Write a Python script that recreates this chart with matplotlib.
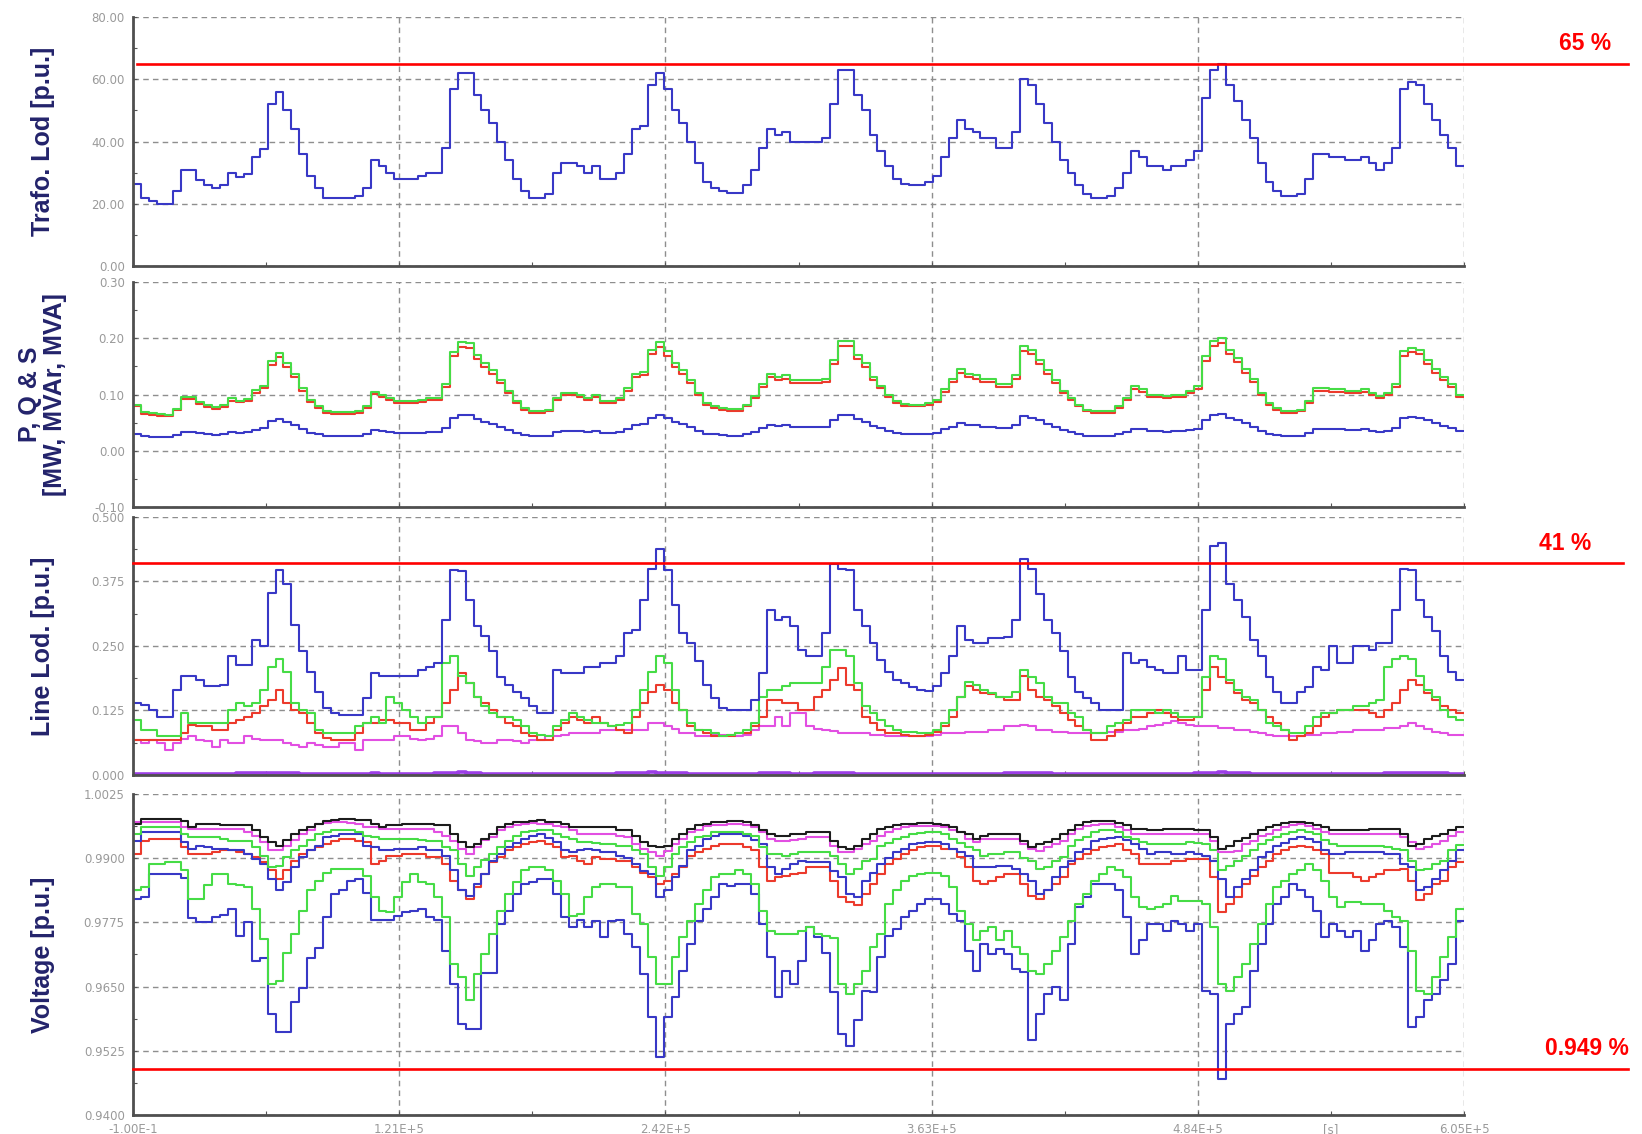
import numpy as np
import matplotlib.pyplot as plt
from matplotlib.ticker import FixedLocator, FixedFormatter

plt.rcParams['font.family'] = ['Liberation Sans', 'DejaVu Sans']

# one week of hourly simulation results
HOUR = 3600.0
T_END = 6.05e5

x_major = [0, 1.21e5, 2.42e5, 3.63e5, 4.84e5, 6.05e5]
x_major_labels = ['-1.00E-1', '1.21E+5', '2.42E+5', '3.63E+5', '4.84E+5', '6.05E+5']
x_minor = [0.605e5, 1.815e5, 3.025e5, 4.235e5, 5.445e5]
x_minor_labels = ['', '', '', '', '[s]']

# --- transformer loading [%] ---
trafo_start = 0.0
trafo_load = [
    26.5, 22, 21, 20, 20, 24, 31, 31, 27.5, 26, 25, 26, 30, 28.5, 29.5, 35, 37.5, 52, 56, 50, 44, 36, 29, 25,
    22, 22, 22, 22, 22.5, 25, 34, 32, 30, 28, 28, 28, 29, 30, 30, 38, 57, 62, 62, 55, 50, 46, 40, 34,
    28, 24, 22, 22, 23, 30, 33, 33, 32, 30, 32, 28, 28, 30, 36, 44, 45, 58, 62, 57, 50, 46, 40, 33,
    27, 25, 24, 23.5, 23.5, 26, 31, 38, 44, 42, 43, 40, 40, 40, 40, 41, 52, 63, 63, 55, 50, 42, 37, 32,
    28, 26.5, 26, 26, 27, 29, 35, 41, 47, 44, 43, 41, 41, 38, 38, 43, 60, 58, 52, 46, 40, 34, 30, 26,
    23, 22, 22, 22.5, 25, 30, 37, 35, 32, 32, 31, 32, 32, 34, 37, 54, 63, 65, 58, 53, 47, 41, 33, 27,
    24, 22.5, 22.5, 23, 28, 36, 36, 35, 35, 34, 34, 35, 33, 31, 33, 38, 57, 59, 58, 52, 47, 42, 38, 32,
]

# --- P, Q and S at the transformer ---
s_mva = [
    .082, .069, .067, .065, .064, .075, .096, .096, .086, .081, .078, .081, .093, .089, .092, .108, .116, .160, .174, .156, .137, .112, .091, .079,
    .070, .069, .069, .069, .071, .079, .105, .099, .094, .088, .088, .088, .091, .094, .094, .118, .176, .193, .192, .171, .156, .143, .125, .106,
    .088, .076, .070, .070, .073, .094, .103, .103, .100, .094, .100, .088, .088, .094, .112, .137, .140, .180, .193, .177, .156, .143, .125, .103,
    .085, .079, .076, .074, .074, .082, .097, .118, .137, .131, .134, .125, .125, .125, .125, .128, .162, .195, .195, .171, .156, .131, .116, .100,
    .088, .083, .082, .082, .085, .091, .109, .128, .146, .137, .134, .128, .128, .119, .119, .134, .186, .180, .162, .143, .125, .106, .094, .082,
    .073, .070, .070, .071, .079, .094, .115, .109, .100, .100, .097, .100, .100, .106, .115, .168, .195, .201, .180, .165, .146, .128, .103, .085,
    .076, .071, .071, .073, .088, .112, .112, .109, .109, .106, .106, .109, .103, .097, .103, .118, .177, .183, .180, .162, .146, .131, .118, .100,
]
p_mw = [
    .079, .066, .064, .062, .061, .072, .092, .092, .083, .078, .075, .078, .089, .086, .088, .103, .111, .153, .166, .149, .131, .107, .087, .076,
    .067, .066, .066, .066, .068, .076, .101, .095, .090, .085, .085, .085, .087, .090, .090, .113, .168, .184, .183, .163, .149, .137, .120, .102,
    .085, .073, .067, .067, .070, .090, .099, .099, .096, .090, .096, .085, .085, .090, .107, .131, .134, .172, .184, .169, .149, .137, .120, .099,
    .082, .076, .073, .071, .071, .079, .093, .113, .131, .125, .128, .120, .120, .120, .120, .123, .155, .186, .186, .163, .149, .125, .111, .096,
    .085, .080, .079, .079, .082, .087, .104, .122, .139, .131, .128, .122, .122, .114, .114, .128, .177, .172, .155, .137, .120, .102, .090, .079,
    .070, .067, .067, .068, .076, .090, .110, .104, .096, .096, .093, .096, .096, .102, .110, .160, .186, .192, .172, .158, .139, .122, .099, .082,
    .073, .068, .068, .070, .085, .107, .107, .104, .104, .102, .102, .104, .099, .093, .099, .113, .169, .175, .172, .155, .139, .125, .113, .096,
]
q_mvar = [
    .030, .026, .025, .025, .024, .028, .034, .034, .031, .029, .028, .029, .033, .032, .033, .037, .040, .053, .057, .052, .046, .039, .032, .029,
    .026, .026, .026, .026, .026, .029, .037, .035, .033, .031, .031, .031, .032, .033, .033, .040, .058, .063, .063, .056, .052, .048, .042, .037,
    .031, .028, .026, .026, .027, .033, .036, .036, .035, .033, .035, .031, .031, .033, .039, .046, .047, .059, .063, .058, .052, .048, .042, .036,
    .030, .029, .028, .027, .027, .030, .034, .040, .046, .044, .045, .042, .042, .042, .042, .043, .054, .064, .064, .056, .052, .044, .040, .035,
    .031, .030, .030, .030, .030, .032, .038, .043, .049, .046, .045, .043, .043, .041, .041, .045, .061, .059, .054, .048, .042, .037, .033, .030,
    .027, .026, .026, .026, .029, .033, .039, .038, .035, .035, .034, .035, .035, .037, .039, .055, .064, .066, .059, .054, .049, .043, .036, .030,
    .028, .026, .026, .027, .031, .039, .039, .038, .038, .037, .037, .038, .036, .034, .036, .040, .058, .060, .059, .054, .049, .044, .040, .035,
]

# --- line loadings ---
line_blue = [
    .139, .135, .126, .112, .112, .165, .191, .191, .185, .172, .172, .175, .230, .214, .214, .262, .250, .353, .398, .370, .290, .240, .200, .160,
    .130, .120, .117, .117, .117, .150, .198, .191, .191, .191, .191, .191, .204, .210, .217, .300, .398, .395, .340, .288, .270, .240, .190, .175,
    .160, .150, .133, .120, .120, .204, .198, .198, .198, .210, .210, .217, .217, .230, .275, .281, .340, .400, .437, .398, .330, .275, .255, .220,
    .175, .150, .130, .126, .126, .126, .145, .198, .320, .300, .306, .288, .243, .230, .230, .275, .408, .400, .398, .320, .288, .255, .223, .200,
    .185, .178, .170, .165, .162, .172, .198, .230, .288, .262, .255, .255, .265, .265, .268, .300, .418, .400, .350, .300, .275, .240, .190, .160,
    .150, .140, .126, .126, .126, .236, .217, .223, .210, .204, .198, .198, .230, .204, .204, .320, .444, .450, .370, .340, .306, .262, .230, .190,
    .160, .139, .139, .160, .170, .210, .204, .249, .217, .217, .249, .249, .243, .255, .255, .320, .400, .398, .340, .306, .280, .230, .200, .185,
]
line_green = [
    .107, .088, .088, .075, .075, .075, .120, .100, .100, .100, .100, .100, .126, .139, .133, .139, .165, .210, .224, .200, .139, .126, .120, .088,
    .081, .081, .081, .081, .094, .100, .113, .100, .152, .139, .126, .113, .100, .113, .113, .217, .230, .191, .178, .152, .133, .120, .113, .113,
    .107, .094, .081, .078, .075, .094, .107, .120, .113, .107, .100, .100, .094, .097, .100, .126, .165, .200, .230, .217, .165, .126, .100, .088,
    .088, .081, .075, .078, .081, .088, .100, .152, .165, .165, .172, .178, .178, .178, .178, .210, .243, .243, .230, .178, .133, .120, .107, .094,
    .088, .084, .084, .081, .081, .088, .100, .126, .152, .180, .175, .165, .159, .152, .152, .160, .204, .190, .178, .152, .139, .139, .120, .113,
    .088, .081, .081, .094, .100, .107, .126, .126, .126, .120, .126, .120, .113, .113, .113, .190, .230, .224, .185, .165, .152, .146, .126, .100,
    .094, .088, .081, .081, .094, .113, .120, .120, .126, .126, .133, .133, .139, .146, .210, .224, .230, .224, .191, .165, .152, .126, .113, .107,
]
line_red = [
    .068, .068, .068, .068, .068, .068, .081, .097, .094, .094, .088, .088, .100, .107, .113, .120, .133, .146, .165, .139, .126, .120, .100, .081,
    .071, .068, .068, .068, .081, .100, .100, .107, .107, .100, .100, .088, .088, .100, .113, .140, .165, .198, .178, .152, .139, .126, .113, .100,
    .094, .081, .075, .068, .068, .088, .100, .113, .107, .100, .113, .100, .094, .088, .081, .113, .139, .160, .175, .165, .139, .126, .094, .088,
    .081, .075, .075, .075, .081, .081, .094, .113, .146, .146, .139, .139, .126, .126, .152, .165, .185, .207, .175, .165, .113, .100, .088, .081,
    .081, .078, .075, .075, .078, .084, .094, .113, .152, .172, .165, .159, .156, .152, .146, .146, .191, .165, .152, .146, .133, .120, .107, .094,
    .088, .068, .068, .075, .088, .100, .113, .113, .120, .126, .120, .113, .107, .107, .113, .165, .210, .190, .178, .159, .146, .139, .126, .113,
    .100, .088, .068, .075, .081, .094, .113, .120, .126, .126, .126, .126, .120, .113, .126, .139, .165, .184, .175, .159, .146, .133, .126, .120,
]
line_pink = [
    .068, .062, .068, .062, .049, .062, .070, .075, .068, .065, .055, .068, .062, .062, .075, .070, .068, .068, .068, .062, .058, .055, .062, .058,
    .055, .055, .062, .062, .049, .068, .068, .068, .068, .075, .075, .070, .068, .070, .075, .094, .094, .081, .068, .065, .062, .062, .068, .068,
    .065, .062, .068, .068, .075, .075, .078, .081, .081, .081, .081, .088, .088, .088, .088, .088, .088, .100, .100, .094, .090, .081, .081, .075,
    .075, .078, .078, .078, .075, .078, .088, .094, .094, .113, .094, .120, .120, .094, .090, .088, .085, .081, .081, .081, .081, .078, .078, .075,
    .075, .075, .075, .075, .075, .078, .081, .081, .081, .084, .084, .084, .088, .088, .094, .094, .097, .094, .088, .088, .084, .084, .081, .081,
    .081, .081, .081, .084, .084, .088, .088, .090, .094, .097, .100, .104, .100, .097, .094, .094, .094, .091, .091, .088, .088, .084, .081, .078,
    .075, .075, .075, .075, .078, .078, .081, .081, .084, .084, .088, .088, .088, .088, .091, .091, .094, .100, .094, .090, .084, .081, .078, .078,
]
line_violet = [
    .002, .002, .002, .002, .002, .002, .002, .002, .002, .002, .002, .002, .002, .003, .003, .003, .004, .004, .004, .003, .003, .002, .002, .002,
    .002, .002, .002, .002, .002, .002, .003, .002, .002, .002, .002, .002, .002, .002, .003, .003, .004, .005, .004, .003, .002, .002, .002, .002,
    .002, .002, .002, .002, .002, .002, .002, .002, .002, .002, .002, .002, .002, .003, .003, .004, .004, .005, .004, .004, .003, .003, .002, .002,
    .002, .002, .002, .002, .002, .002, .002, .003, .003, .003, .003, .002, .002, .002, .003, .004, .004, .004, .003, .002, .002, .002, .002, .002,
    .002, .002, .002, .002, .002, .002, .002, .002, .002, .002, .002, .002, .002, .002, .003, .003, .004, .004, .003, .003, .002, .002, .002, .002,
    .002, .002, .002, .002, .002, .002, .002, .002, .002, .002, .002, .002, .002, .002, .003, .004, .004, .005, .004, .003, .003, .002, .002, .002,
    .002, .002, .002, .002, .002, .002, .002, .002, .002, .002, .002, .002, .002, .002, .003, .003, .004, .004, .004, .004, .003, .003, .002, .002,
]

# --- bus voltages [p.u.] ---
volt_black = [
    .9967, .9976, .9976, .9976, .9976, .9976, .9973, .9960, .9967, .9967, .9967, .9964, .9964, .9964, .9964, .9954, .9941, .9931, .9924, .9935, .9947, .9954, .9960, .9967,
    .9973, .9975, .9976, .9976, .9974, .9974, .9967, .9960, .9964, .9964, .9967, .9967, .9967, .9967, .9964, .9964, .9947, .9931, .9921, .9928, .9938, .9947, .9960, .9967,
    .9970, .9970, .9973, .9974, .9970, .9970, .9967, .9960, .9960, .9960, .9960, .9960, .9960, .9954, .9954, .9944, .9931, .9924, .9921, .9924, .9938, .9947, .9957, .9964,
    .9967, .9970, .9970, .9972, .9972, .9970, .9964, .9954, .9947, .9944, .9944, .9946, .9947, .9950, .9950, .9950, .9934, .9921, .9918, .9924, .9938, .9947, .9957, .9960,
    .9964, .9966, .9967, .9968, .9968, .9967, .9964, .9960, .9950, .9947, .9938, .9944, .9947, .9947, .9947, .9947, .9934, .9921, .9928, .9931, .9938, .9947, .9954, .9964,
    .9970, .9973, .9973, .9972, .9968, .9964, .9957, .9957, .9955, .9955, .9957, .9957, .9957, .9957, .9954, .9954, .9941, .9918, .9924, .9934, .9940, .9947, .9954, .9960,
    .9964, .9968, .9970, .9970, .9968, .9964, .9960, .9954, .9954, .9954, .9955, .9955, .9957, .9957, .9957, .9957, .9947, .9924, .9928, .9938, .9944, .9947, .9954, .9960,
]
volt_pink = [
    .9970, .9970, .9970, .9970, .9970, .9970, .9960, .9957, .9957, .9957, .9957, .9957, .9957, .9957, .9950, .9944, .9931, .9915, .9915, .9924, .9935, .9947, .9955, .9967,
    .9968, .9970, .9970, .9968, .9966, .9960, .9960, .9957, .9957, .9957, .9957, .9957, .9957, .9957, .9950, .9944, .9934, .9918, .9908, .9921, .9935, .9941, .9954, .9960,
    .9964, .9966, .9968, .9967, .9967, .9962, .9960, .9954, .9947, .9947, .9947, .9947, .9947, .9944, .9941, .9928, .9918, .9911, .9905, .9914, .9928, .9938, .9950, .9955,
    .9962, .9964, .9965, .9967, .9967, .9964, .9960, .9950, .9937, .9934, .9934, .9936, .9937, .9941, .9941, .9941, .9924, .9911, .9911, .9918, .9928, .9934, .9944, .9950,
    .9957, .9960, .9962, .9963, .9963, .9962, .9960, .9954, .9950, .9937, .9931, .9937, .9937, .9937, .9937, .9937, .9928, .9918, .9914, .9921, .9928, .9934, .9947, .9957,
    .9962, .9965, .9966, .9966, .9960, .9954, .9947, .9947, .9947, .9947, .9947, .9947, .9947, .9947, .9947, .9947, .9934, .9911, .9911, .9914, .9928, .9934, .9944, .9947,
    .9955, .9960, .9964, .9966, .9962, .9957, .9950, .9947, .9947, .9947, .9947, .9947, .9947, .9947, .9947, .9947, .9941, .9931, .9918, .9921, .9928, .9934, .9944, .9950,
]
volt_green_hi = [
    .9947, .9960, .9960, .9960, .9960, .9960, .9947, .9941, .9941, .9941, .9941, .9938, .9934, .9934, .9934, .9921, .9905, .9882, .9885, .9902, .9915, .9924, .9935, .9947,
    .9950, .9954, .9954, .9954, .9950, .9944, .9941, .9938, .9937, .9937, .9937, .9937, .9935, .9934, .9934, .9921, .9915, .9889, .9866, .9882, .9896, .9908, .9921, .9934,
    .9944, .9950, .9952, .9954, .9954, .9947, .9941, .9938, .9931, .9931, .9930, .9928, .9928, .9924, .9924, .9915, .9908, .9882, .9866, .9882, .9908, .9921, .9931, .9941,
    .9944, .9950, .9950, .9950, .9950, .9947, .9944, .9921, .9908, .9908, .9905, .9908, .9911, .9911, .9911, .9911, .9905, .9889, .9869, .9879, .9895, .9898, .9924, .9930,
    .9937, .9942, .9947, .9949, .9950, .9950, .9947, .9937, .9930, .9921, .9915, .9905, .9908, .9908, .9911, .9911, .9900, .9895, .9879, .9882, .9895, .9902, .9924, .9935,
    .9941, .9950, .9954, .9955, .9950, .9941, .9937, .9931, .9928, .9928, .9928, .9928, .9928, .9931, .9930, .9928, .9915, .9876, .9885, .9895, .9905, .9915, .9928, .9935,
    .9941, .9946, .9950, .9954, .9950, .9947, .9935, .9928, .9924, .9924, .9924, .9924, .9924, .9924, .9921, .9918, .9915, .9895, .9876, .9879, .9889, .9895, .9915, .9925,
]
volt_blue_hi = [
    .9934, .9950, .9950, .9950, .9950, .9950, .9931, .9918, .9924, .9921, .9918, .9918, .9915, .9915, .9908, .9898, .9889, .9859, .9837, .9853, .9882, .9902, .9915, .9924,
    .9941, .9944, .9947, .9947, .9947, .9924, .9921, .9915, .9915, .9918, .9918, .9918, .9921, .9915, .9915, .9905, .9876, .9837, .9827, .9850, .9869, .9895, .9908, .9921,
    .9930, .9937, .9944, .9947, .9940, .9931, .9915, .9911, .9915, .9918, .9915, .9911, .9911, .9905, .9900, .9889, .9875, .9869, .9824, .9837, .9863, .9885, .9915, .9924,
    .9937, .9944, .9947, .9947, .9946, .9944, .9935, .9928, .9882, .9869, .9879, .9889, .9895, .9892, .9892, .9892, .9875, .9863, .9830, .9824, .9856, .9872, .9889, .9900,
    .9911, .9918, .9928, .9930, .9931, .9931, .9928, .9918, .9911, .9905, .9882, .9882, .9882, .9885, .9885, .9879, .9870, .9856, .9830, .9837, .9863, .9882, .9895, .9911,
    .9918, .9933, .9937, .9940, .9941, .9935, .9928, .9918, .9908, .9911, .9911, .9908, .9908, .9911, .9908, .9905, .9895, .9860, .9824, .9843, .9860, .9876, .9902, .9911,
    .9924, .9930, .9937, .9941, .9937, .9931, .9915, .9908, .9908, .9911, .9911, .9911, .9911, .9911, .9908, .9908, .9889, .9882, .9837, .9843, .9860, .9876, .9895, .9915,
]
volt_red = [
    .9908, .9934, .9937, .9937, .9937, .9937, .9921, .9908, .9908, .9908, .9911, .9915, .9915, .9911, .9908, .9902, .9892, .9876, .9859, .9876, .9895, .9908, .9915, .9921,
    .9928, .9934, .9937, .9937, .9934, .9931, .9889, .9895, .9905, .9905, .9908, .9908, .9908, .9902, .9902, .9889, .9856, .9837, .9821, .9843, .9869, .9892, .9902, .9915,
    .9921, .9928, .9931, .9934, .9928, .9921, .9902, .9905, .9895, .9889, .9902, .9898, .9898, .9895, .9895, .9882, .9872, .9863, .9850, .9856, .9869, .9882, .9905, .9911,
    .9918, .9924, .9928, .9928, .9928, .9921, .9915, .9882, .9856, .9863, .9866, .9869, .9872, .9882, .9882, .9882, .9856, .9824, .9815, .9808, .9830, .9850, .9869, .9889,
    .9898, .9908, .9915, .9921, .9924, .9924, .9918, .9918, .9902, .9882, .9856, .9850, .9856, .9863, .9869, .9869, .9850, .9827, .9821, .9837, .9850, .9863, .9889, .9898,
    .9908, .9915, .9921, .9924, .9928, .9915, .9908, .9889, .9889, .9889, .9889, .9895, .9895, .9898, .9898, .9898, .9863, .9795, .9811, .9824, .9850, .9866, .9882, .9895,
    .9908, .9915, .9921, .9924, .9921, .9915, .9908, .9872, .9872, .9872, .9863, .9856, .9863, .9869, .9876, .9876, .9879, .9856, .9818, .9830, .9850, .9856, .9882, .9892,
]
volt_green_lo = [
    .9837, .9843, .9889, .9889, .9892, .9892, .9876, .9820, .9820, .9847, .9869, .9869, .9850, .9847, .9843, .9800, .9742, .9655, .9660, .9716, .9752, .9798, .9837, .9856,
    .9872, .9879, .9879, .9879, .9879, .9866, .9824, .9798, .9795, .9824, .9853, .9869, .9853, .9850, .9824, .9785, .9694, .9668, .9623, .9675, .9714, .9752, .9798, .9830,
    .9853, .9876, .9882, .9882, .9876, .9856, .9830, .9788, .9791, .9824, .9843, .9850, .9850, .9843, .9843, .9791, .9772, .9707, .9655, .9655, .9707, .9746, .9778, .9811,
    .9837, .9863, .9869, .9869, .9876, .9869, .9850, .9798, .9759, .9752, .9752, .9752, .9759, .9765, .9752, .9749, .9745, .9655, .9636, .9655, .9681, .9726, .9752, .9810,
    .9837, .9856, .9866, .9870, .9872, .9872, .9866, .9843, .9798, .9772, .9740, .9759, .9765, .9740, .9759, .9726, .9714, .9681, .9675, .9694, .9720, .9746, .9778, .9811,
    .9830, .9856, .9869, .9882, .9876, .9863, .9824, .9804, .9801, .9804, .9811, .9827, .9817, .9817, .9817, .9811, .9765, .9655, .9642, .9668, .9694, .9733, .9772, .9811,
    .9843, .9856, .9869, .9876, .9889, .9876, .9856, .9824, .9804, .9814, .9814, .9811, .9811, .9811, .9798, .9785, .9778, .9720, .9642, .9636, .9668, .9707, .9746, .9800,
]
volt_blue_lo = [
    .9820, .9825, .9869, .9869, .9869, .9869, .9862, .9784, .9775, .9775, .9785, .9790, .9800, .9749, .9775, .9700, .9705, .9597, .9561, .9561, .9620, .9648, .9705, .9725,
    .9786, .9830, .9837, .9856, .9859, .9833, .9780, .9780, .9780, .9788, .9795, .9797, .9801, .9785, .9780, .9720, .9655, .9577, .9567, .9567, .9677, .9677, .9772, .9798,
    .9830, .9850, .9853, .9859, .9859, .9830, .9785, .9765, .9780, .9765, .9778, .9746, .9778, .9780, .9752, .9726, .9675, .9590, .9512, .9590, .9629, .9681, .9733, .9778,
    .9800, .9824, .9850, .9846, .9850, .9850, .9830, .9772, .9707, .9629, .9681, .9655, .9700, .9765, .9746, .9716, .9639, .9558, .9535, .9584, .9642, .9639, .9707, .9749,
    .9762, .9785, .9798, .9811, .9820, .9820, .9811, .9791, .9778, .9720, .9681, .9733, .9714, .9723, .9714, .9684, .9678, .9545, .9597, .9636, .9649, .9623, .9733, .9804,
    .9824, .9850, .9850, .9850, .9837, .9785, .9714, .9740, .9772, .9772, .9759, .9778, .9772, .9759, .9772, .9642, .9636, .9470, .9577, .9597, .9610, .9681, .9733, .9772,
    .9811, .9824, .9850, .9837, .9824, .9798, .9746, .9772, .9759, .9746, .9759, .9720, .9740, .9772, .9778, .9765, .9726, .9571, .9590, .9623, .9636, .9662, .9694, .9778,
]

C_BLUE = '#3838c6'
C_GREEN = '#46dc46'
C_RED = '#ec3a2c'
C_PINK = '#e24fe2'
C_VIOLET = '#9c3fe6'
C_BLACK = '#1c1c1c'
C_LABEL = '#23236b'


def step(ax, vals, color, lw=1.5, start=None):
    t = np.arange(len(vals) + 1) * HOUR
    y = np.append(vals, vals[-1])
    if start is not None:
        t = np.insert(t, 0, 0.0)
        y = np.insert(y, 0, start)
    ax.plot(t, y, drawstyle='steps-post', color=color, lw=lw)


def setup(ax, lo, hi, n, fmt, ylabel, show_x=False):
    ax.set_xlim(0, T_END)
    ax.set_ylim(lo, hi)
    major = np.linspace(lo, hi, n)
    ax.yaxis.set_major_locator(FixedLocator(major))
    ax.yaxis.set_major_formatter(FixedFormatter([fmt.format(v) for v in major]))
    ax.yaxis.set_minor_locator(FixedLocator((major[:-1] + major[1:]) / 2))
    ax.xaxis.set_major_locator(FixedLocator(x_major))
    ax.xaxis.set_minor_locator(FixedLocator(x_minor))
    if show_x:
        ax.xaxis.set_major_formatter(FixedFormatter(x_major_labels))
        ax.xaxis.set_minor_formatter(FixedFormatter(x_minor_labels))
    else:
        ax.set_xticklabels([])
    ax.grid(True, which='major', color='#8e8e8e', ls=(0, (4, 3)), lw=1.0)
    for side in ('top', 'right'):
        ax.spines[side].set_visible(False)
    for side in ('left', 'bottom'):
        ax.spines[side].set_color('#4f4f4f')
        ax.spines[side].set_linewidth(2.0)
    ax.tick_params(which='both', direction='in', length=3, width=0.8, color='#555555',
                   labelsize=8.5, labelcolor='#9a9a9a', pad=6)
    for lab in ax.get_xticklabels(which='both') + ax.get_yticklabels():
        lab.set_family('DejaVu Sans')
    ax.set_axisbelow(True)
    box = ax.get_position()
    fig.text(0.026, box.y0 + box.height / 2, ylabel, rotation=90, ha='center', va='center',
             fontsize=18, fontweight='bold', color=C_LABEL, linespacing=1.05)


def limit(ax, value, x0, x1, text, tx):
    tr = ax.get_yaxis_transform()
    ax.plot([x0, x1], [value, value], color='#ff0000', lw=1.9, transform=tr, clip_on=False, zorder=6)
    ax.annotate(text, xy=(tx, value), xycoords=tr, xytext=(0, 10), textcoords='offset points',
                ha='center', va='baseline', color='#ff0000', fontsize=16.5, fontweight='bold',
                annotation_clip=False)


fig = plt.figure(figsize=(16.42, 11.34), dpi=100)
ax1 = fig.add_axes([0.0810, 0.7654, 0.8106, 0.2196])
ax2 = fig.add_axes([0.0810, 0.5529, 0.8106, 0.1984])
ax3 = fig.add_axes([0.0810, 0.3166, 0.8106, 0.2275])
ax4 = fig.add_axes([0.0810, 0.0168, 0.8106, 0.2831])

setup(ax1, 0, 80, 5, '{:.2f}', 'Trafo. Lod [p.u.]')
step(ax1, trafo_load, C_BLUE, start=trafo_start)
limit(ax1, 65, 0.003, 1.1232, '65 %', 1.0909)

setup(ax2, -0.10, 0.30, 5, '{:.2f}', 'P, Q & S\n[MW, MVAr, MVA]')
step(ax2, q_mvar, C_BLUE)
step(ax2, p_mw, C_RED)
step(ax2, s_mva, C_GREEN)

setup(ax3, 0, 0.5, 5, '{:.3f}', 'Line Lod. [p.u.]')
step(ax3, line_violet, C_VIOLET, lw=2.6)
step(ax3, line_pink, C_PINK)
step(ax3, line_red, C_RED)
step(ax3, line_green, C_GREEN)
step(ax3, line_blue, C_BLUE)
limit(ax3, 0.41, 0.0, 1.1195, '41 %', 1.0759)

setup(ax4, 0.94, 1.0025, 6, '{:.4f}', 'Voltage [p.u.]', show_x=True)
step(ax4, volt_blue_lo, C_BLUE)
step(ax4, volt_green_lo, C_GREEN)
step(ax4, volt_red, C_RED)
step(ax4, volt_blue_hi, C_BLUE)
step(ax4, volt_green_hi, C_GREEN)
step(ax4, volt_pink, C_PINK)
step(ax4, volt_black, C_BLACK)
limit(ax4, 0.949, 0.0, 1.1232, '0.949 %', 1.0924)

fig.savefig('out.png', dpi=100)
